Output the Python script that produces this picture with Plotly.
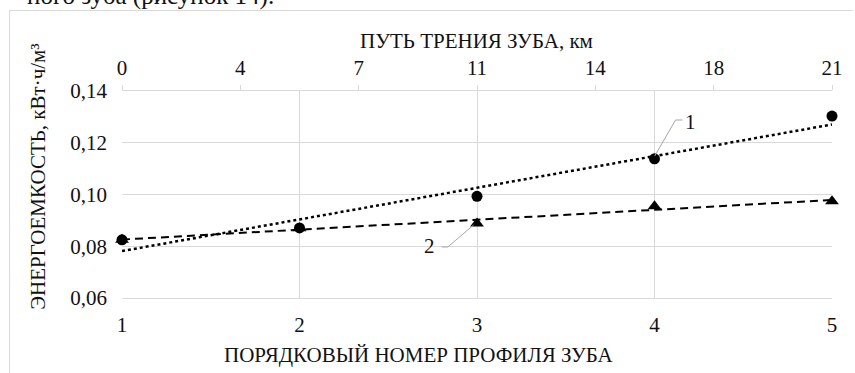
import numpy as np
import plotly.graph_objects as go

# ---- data ----
profile_no = [1, 2, 3, 4, 5]
profile_labels = ["1", "2", "3", "4", "5"]
path_ticks = ["0", "4", "7", "11", "14", "18", "21"]
energy_1 = [0.0825, 0.0871, 0.0993, 0.1138, 0.1303]   # circles (1)
energy_2 = [0.0825, 0.0870, 0.0888, 0.0955, 0.0974]   # triangles (2)

W, H = 855, 373
L, R, T, B = 122, 16, 91, 75
PW, PH = W - L - R, H - T - B

def px(xp):
    return (xp - L) / PW

def py(yp):
    return (H - B - yp) / PH

FONT = "'Liberation Serif', 'Times New Roman', 'DejaVu Serif', serif"
TXT = "#111111"
GRID = "#d9d9d9"
F21 = dict(family=FONT, size=21, color=TXT)

# trendlines (linear least squares from the data)
xs = np.array(profile_no, dtype=float)
c1 = np.polyfit(xs, energy_1, 1)
c2 = np.polyfit(xs, energy_2, 1)
tx = [profile_no[0], profile_no[-1]]

fig = go.Figure()
fig.add_trace(go.Scatter(x=tx, y=list(np.polyval(c2, tx)), mode="lines",
                         line=dict(color="black", width=2, dash="8px,5px"),
                         showlegend=False, hoverinfo="skip"))
fig.add_trace(go.Scatter(x=tx, y=list(np.polyval(c1, tx)), mode="lines",
                         line=dict(color="black", width=2.5, dash="dot"),
                         showlegend=False, hoverinfo="skip"))
fig.add_trace(go.Scatter(x=profile_no, y=energy_2, mode="markers",
                         marker=dict(symbol="triangle-up", size=12, color="black"),
                         cliponaxis=False, showlegend=False))
fig.add_trace(go.Scatter(x=profile_no, y=energy_1, mode="markers",
                         marker=dict(symbol="circle", size=11, color="black"),
                         cliponaxis=False, showlegend=False))
# dummy trace for top axis
fig.add_trace(go.Scatter(x=[0, 6], y=[None, None], xaxis="x2", yaxis="y",
                         mode="markers", showlegend=False, hoverinfo="skip"))

fig.update_layout(
    width=W, height=H, autosize=False,
    margin=dict(l=L, r=R, t=T, b=B, pad=0),
    paper_bgcolor="white", plot_bgcolor="white",
    separators=", ",
    font=F21,
    xaxis=dict(range=[1, 5], tickvals=profile_no, ticktext=profile_labels,
               tickfont=F21,
               showgrid=True, gridcolor=GRID, gridwidth=1,
               showline=True, linecolor=GRID, linewidth=1,
               zeroline=False, ticks="", ticklabelstandoff=8),
    xaxis2=dict(overlaying="x", side="top", range=[0, 6],
                tickvals=list(range(len(path_ticks))), ticktext=path_ticks,
                tickfont=F21,
                showgrid=False, showline=True, linecolor=GRID, linewidth=1,
                ticks="outside", ticklen=5, tickcolor=GRID, zeroline=False,
                ticklabelstandoff=2),
    yaxis=dict(range=[0.06, 0.14], dtick=0.02, tick0=0.06, tickformat=".2f",
               tickfont=F21,
               showgrid=True, gridcolor=GRID, gridwidth=1,
               showline=False, zeroline=False, ticks="", ticklabelstandoff=14),
)

ann = []
ann.append(dict(text="ПУТЬ ТРЕНИЯ ЗУБА, км", x=px(480), y=py(41),
                xref="paper", yref="paper", showarrow=False, font=F21,
                xanchor="center", yanchor="middle"))
ann.append(dict(text="ПОРЯДКОВЫЙ НОМЕР ПРОФИЛЯ ЗУБА", x=px(422), y=py(355),
                xref="paper", yref="paper", showarrow=False, font=F21,
                xanchor="center", yanchor="middle"))
ann.append(dict(text="ЭНЕРГОЕМКОСТЬ, кВт·ч/м³", x=px(37), y=py(177),
                xref="paper", yref="paper", showarrow=False, textangle=-90,
                font=F21, xanchor="center", yanchor="middle"))
ann.append(dict(text="1", x=px(696), y=py(122), xref="paper", yref="paper",
                showarrow=False, font=F21, xanchor="center", yanchor="middle"))
ann.append(dict(text="2", x=px(433), y=py(246), xref="paper", yref="paper",
                showarrow=False, font=F21, xanchor="center", yanchor="middle"))
ann.append(dict(text="ного зуба (рисунок 14).", x=px(278), y=py(12),
                xref="paper", yref="paper", showarrow=False,
                xanchor="right", yanchor="bottom",
                font=dict(family=FONT, size=25, color=TXT)))
fig.update_layout(annotations=ann)

shapes = []
# leader lines
shapes.append(dict(type="path", xref="paper", yref="paper",
                   path=f"M {px(660)} {py(156)} L {px(681)} {py(120)} L {px(688)} {py(120)}",
                   line=dict(color="#a6a6a6", width=1)))
shapes.append(dict(type="path", xref="paper", yref="paper",
                   path=f"M {px(445)} {py(247)} L {px(451)} {py(247)} L {px(477)} {py(225)}",
                   line=dict(color="#a6a6a6", width=1)))
# chart frame (top and left edges visible)
shapes.append(dict(type="line", xref="paper", yref="paper",
                   x0=px(8), x1=px(W + 5), y0=py(10.5), y1=py(10.5),
                   line=dict(color=GRID, width=1)))
shapes.append(dict(type="line", xref="paper", yref="paper",
                   x0=px(8.5), x1=px(8.5), y0=py(10.5), y1=py(H + 5),
                   line=dict(color=GRID, width=1)))
fig.update_layout(shapes=shapes)

fig.write_html("out.html")
